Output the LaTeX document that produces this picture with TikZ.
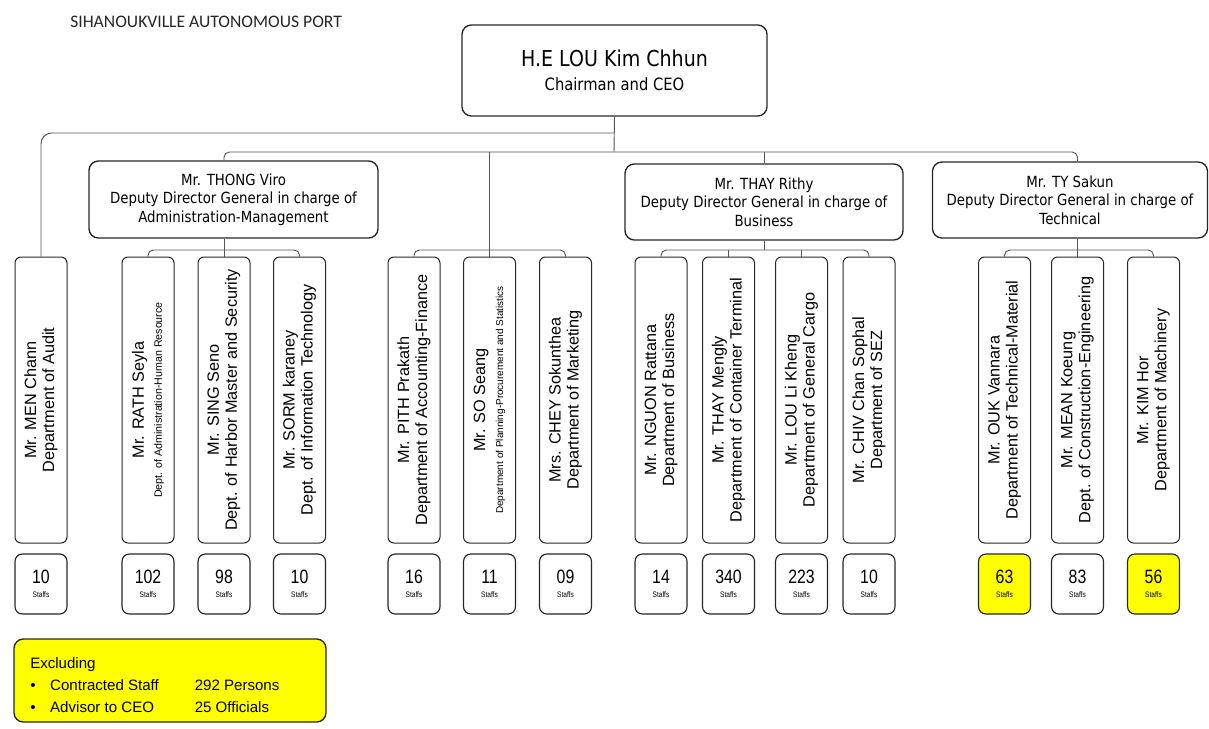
\documentclass[tikz,border=0pt]{standalone}
\usepackage{fontspec}
\setmainfont{Liberation Sans}
\newfontfamily\headfont[FakeStretch=0.87]{DejaVu Sans}
\newfontfamily\titlefont{Carlito}
\newfontfamily\narrowfont[FakeStretch=0.82]{Liberation Sans}
\usetikzlibrary{calc}
\definecolor{color_org_line}{HTML}{262626}
\definecolor{color_org_wire}{HTML}{555555}
\definecolor{color_org_yellow}{HTML}{FFFF00}
\def\orgradius{4.5pt}
\def\deptlength{214.5pt}
\def\deptwidth{39pt}

\tikzset{
  headbox/.style={draw=color_org_line, line width=1pt, rounded corners=7pt, align=center, inner sep=0pt},
  deptbox/.style={draw=color_org_line, line width=0.75pt, rounded corners=\orgradius, rotate=90, align=center,
    minimum width=\deptlength, minimum height=\deptwidth, inner sep=0pt, font=\fontsize{12.2}{13.5}\selectfont},
  staffbox/.style={draw=color_org_line, line width=0.85pt, rounded corners=5.5pt, minimum width=39pt,
    minimum height=45pt, inner sep=0pt, align=center, font=\narrowfont\fontsize{6}{10.5}\selectfont},
  wire/.style={draw=color_org_wire, line width=0.7pt, rounded corners=4pt},
}

\begin{document}
\begin{tikzpicture}[x=0.75pt, y=-0.75pt]
            \useasboundingbox (0,0) rectangle (1209,728);
            \node[anchor=west, inner sep=0pt, text=color_org_line, font=\titlefont\fontsize{13.2}{15}\selectfont] (title) at (70,22) {SIHANOUKVILLE AUTONOMOUS PORT};
            % chairman
            \node[headbox, minimum width=228.75pt, minimum height=68.25pt, font=\headfont\fontsize{12.7}{18}\selectfont] (ceo) at (614.5,70.5)
                {{\fontsize{16.4}{18}\selectfont H.E LOU Kim Chhun}\\Chairman and CEO};
            % deputy directors general
            \node[headbox, minimum width=216.75pt, minimum height=57.75pt, font=\headfont\fontsize{11.5}{13.9}\selectfont] (thong) at (233.5,199.5)
                {Mr. THONG Viro\\Deputy Director General in charge of\\Administration-Management};
            \node[headbox, minimum width=208.5pt, minimum height=57pt, font=\headfont\fontsize{11.5}{13.9}\selectfont] (thaydg) at (764,202)
                {Mr. THAY Rithy\\Deputy Director General in charge of\\Business};
            \node[headbox, minimum width=206.25pt, minimum height=57pt, font=\headfont\fontsize{11.5}{13.9}\selectfont] (tydg) at (1070,200)
                {Mr. TY Sakun\\Deputy Director General in charge of\\Technical};
            % departments (rotated: east is the top)
            \node[deptbox] (audit) at (41,400) {Mr. MEN Chann\\Department of Audit};
            \node[deptbox] (rath) at (148,400) {Mr. RATH Seyla\\{\fontsize{8}{9}\selectfont Dept. of Administration-Human Resource}};
            \node[deptbox] (sing) at (224,400) {Mr. SING Seno\\Dept. of Harbor Master and Security};
            \node[deptbox] (sorm) at (299.5,400) {Mr. SORM karaney\\Dept. of Information Technology};
            %
            \node[deptbox] (pith) at (414,400) {Mr. PITH Prakath\\Department of Accounting-Finance};
            \node[deptbox] (so) at (489.5,400) {Mr. SO Seang\\{\fontsize{7.5}{9}\selectfont Department of Planning-Procurement and Statistics}};
            \node[deptbox] (chey) at (565.5,400) {Mrs. CHEY Sokunthea\\Department of Marketing};
            %
            \node[deptbox] (nguon) at (661,400) {Mr. NGUON Rattana\\Department of Business};
            \node[deptbox] (thaym) at (728.5,400) {Mr. THAY Mengly\\Department of Container Terminal};
            \node[deptbox] (lou) at (801.5,400) {Mr. LOU Li Kheng\\Department of General Cargo};
            \node[deptbox] (chiv) at (869,400) {Mr. CHIV Chan Sophal\\Department of SEZ};
            %
            \node[deptbox] (ouk) at (1004.5,400) {Mr. OUK Vannara\\Department of Technical-Material};
            \node[deptbox] (mean) at (1077.5,400) {Mr. MEAN Koeung\\Dept. of Construction-Engineering};
            \node[deptbox] (kim) at (1153.5,400) {Mr. KIM Hor\\Department of Machinery};
            % staff counts
            \foreach \nm/\xx/\num/\fc in {audit/41/10/white, rath/148/102/white, sing/224/98/white, sorm/299.5/10/white,
                                          pith/414/16/white, so/489.5/11/white, chey/565.5/09/white,
                                          nguon/661/14/white, thaym/728.5/340/white, lou/801.5/223/white, chiv/869/10/white,
                                          ouk/1004.5/63/color_org_yellow, mean/1077.5/83/white, kim/1153.5/56/color_org_yellow}
                \node[staffbox, fill=\fc] (st\nm) at (\xx,584) {{\fontsize{14.5}{14.5}\selectfont \num}\\Staffs};
            % bus lines
            \coordinate (topbus) at (614,133);
            \coordinate (midbus) at (614,152);
            \coordinate (deptbus) at (0,250);
            \draw[wire] (ceo.south) -- (midbus);
            \draw[wire, rounded corners=8pt] (topbus) -| (audit.east);
            \draw[wire] (thong.north -| sing.east) |- (midbus) -| (tydg.north -| mean.east);
            \draw[wire] (so.east |- midbus) -- (so.east);
            \draw[wire] (thaydg.north |- midbus) -- (thaydg.north);
            % administration-management
            \draw[wire] (thong.south -| sing.east) -- (sing.east);
            \draw[wire] (rath.east) -- (rath.east |- deptbus) -- (sorm.east |- deptbus) -- (sorm.east);
            % finance group
            \draw[wire] (pith.east) -- (pith.east |- deptbus) -- (chey.east |- deptbus) -- (chey.east);
            % business
            \draw[wire] (thaydg.south) -- (thaydg.south |- deptbus);
            \draw[wire] (nguon.east) -- (nguon.east |- deptbus) -- (chiv.east |- deptbus) -- (chiv.east);
            \draw[wire] (thaym.east |- deptbus) -- (thaym.east);
            \draw[wire] (lou.east |- deptbus) -- (lou.east);
            % technical
            \draw[wire] (tydg.south -| mean.east) -- (mean.east);
            \draw[wire] (ouk.east) -- (ouk.east |- deptbus) -- (kim.east |- deptbus) -- (kim.east);
            % note
            \node[draw=color_org_line, fill=color_org_yellow, rounded corners=7pt, line width=1pt, minimum width=234pt, minimum height=62.25pt] (note) at (170,680.5) {};
            \node[anchor=north west, inner sep=0pt, font=\fontsize{11.3}{16.5}\selectfont] (notetext) at (30,653)
                {\begin{tabular}{@{}l@{\hspace{11pt}}l@{\hspace{27pt}}l@{}}
                 \multicolumn{3}{@{}l}{Excluding}\\
                 \textbullet & Contracted Staff & 292 Persons\\
                 \textbullet & Advisor to CEO & 25 Officials
                 \end{tabular}};
\end{tikzpicture}
\end{document}
